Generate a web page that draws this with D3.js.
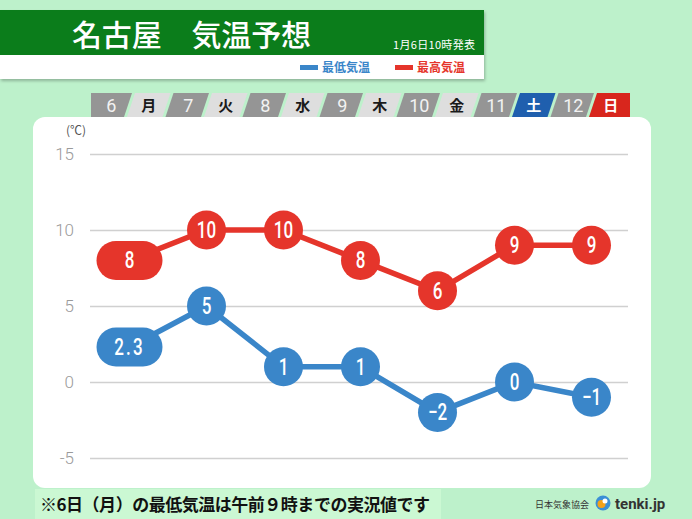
<!DOCTYPE html>
<html><head><meta charset="utf-8">
<script src="https://cdn.jsdelivr.net/npm/d3@7"></script>
<style>
html,body{margin:0;padding:0;background:#bdf1cb;}
svg{display:block;}
</style></head>
<body>
<svg id="c" width="692" height="519"></svg>
<script>
const dates = ["6","7","8","9","10","11","12"];
const weekdays = ["月","火","水","木","金","土","日"];
const lowTemps = [2.3,5,1,1,-2,0,-1];
const lowLabels = ["2.3","5","1","1","−2","0","−1"];
const highTemps = [8,10,10,8,6,9,9];
const highLabels = ["8","10","10","8","6","9","9"];
const yTicks = [-5,0,5,10,15];

(function(){
const svg = d3.select("#c");
const W = 692, H = 519;
const RED = "#e5352b", BLUE = "#3a86c9";
const numFont = "Roboto,sans-serif";
const jpFont = "'Noto Sans CJK JP',sans-serif";

svg.append("rect").attr("width",W).attr("height",H).attr("fill","#bdf1cb");

const defs = svg.append("defs");
const f = defs.append("filter").attr("id","sh").attr("x","-5%").attr("y","-20%").attr("width","110%").attr("height","150%");
f.append("feDropShadow").attr("dx",1).attr("dy",2).attr("stdDeviation",1.5).attr("flood-color","#000").attr("flood-opacity",0.25);

// Banner
svg.append("rect").attr("x",0).attr("y",10).attr("width",484).attr("height",69).attr("fill","#fff").attr("filter","url(#sh)");
svg.append("rect").attr("x",0).attr("y",10).attr("width",484).attr("height",45).attr("fill","#0b7d1b");
svg.append("text").attr("x",72).attr("y",46).attr("fill","#fff").attr("font-family",jpFont).attr("font-size",30).attr("font-weight",500)
  .attr("textLength",239).text("名古屋\u3000気温予想");
svg.append("text").attr("x",475).attr("y",49).attr("text-anchor","end").attr("fill","#fff").attr("font-family",jpFont).attr("font-size",11)
  .attr("textLength",82).text("1月6日10時発表");
// legend
const legend = [{c:BLUE,t:"最低気温",x:300},{c:RED,t:"最高気温",x:395}];
legend.forEach(l=>{
  svg.append("rect").attr("x",l.x).attr("y",65).attr("width",18).attr("height",5).attr("fill",l.c);
  svg.append("text").attr("x",l.x+22).attr("y",72).attr("fill",l.c).attr("font-family",jpFont).attr("font-weight",700).attr("font-size",12).text(l.t);
});

// Panel
svg.append("rect").attr("x",33).attr("y",117).attr("width",618).attr("height",371).attr("rx",12).attr("fill","#fff");

// Scales
const x = d3.scaleBand().domain(dates).range([91,630]).padding(0);
const cx = d => x(d) + x.bandwidth()/2;
const y = d3.scaleLinear().domain([-5,15]).range([458,154]);

// Day header
const bw = x.bandwidth(), half = bw/2, yTop = 93, yBot = 117, sk = 4, gap = 1.5;
dates.forEach((d,i)=>{
  const x0 = x(d), xm = x0+half, x1 = x0+bw;
  const l0 = i===0 ? x0 : x0+gap;
  const numPts = i===0 ? [[x0,yTop],[xm+sk-gap,yTop],[xm-sk-gap,yBot],[x0,yBot]]
                       : [[l0+sk,yTop],[xm+sk-gap,yTop],[xm-sk-gap,yBot],[l0-sk,yBot]];
  svg.append("polygon").attr("points",numPts.map(p=>p.join(",")).join(" ")).attr("fill","#959595");
  const wdFill = weekdays[i]==="土" ? "#1f5fae" : weekdays[i]==="日" ? "#d8261d" : "#dedede";
  const wdPts = i===dates.length-1 ? [[xm+sk+gap,yTop],[x1,yTop],[x1,yBot],[xm-sk+gap,yBot]]
                       : [[xm+sk+gap,yTop],[x1+sk-gap,yTop],[x1-sk-gap,yBot],[xm-sk+gap,yBot]];
  svg.append("polygon").attr("points",wdPts.map(p=>p.join(",")).join(" ")).attr("fill",wdFill);
  svg.append("text").attr("x",x0+half/2+1).attr("y",112).attr("text-anchor","middle").attr("fill","#f2f2f2")
    .attr("font-family","Roboto,sans-serif").attr("font-size",18).text(d);
  svg.append("text").attr("x",xm+half/2).attr("y",111).attr("text-anchor","middle")
    .attr("fill",(weekdays[i]==="土"||weekdays[i]==="日")?"#fff":"#1a1a1a")
    .attr("font-family",jpFont).attr("font-size",15).attr("font-weight",700).text(weekdays[i]);
});

// Y axis + grid
const yAxis = d3.axisLeft(y).tickValues(yTicks).tickSize(-(628-90)).tickPadding(16).tickFormat(d=>d);
const ga = svg.append("g").attr("transform","translate(90,0)").call(yAxis);
ga.select(".domain").remove();
ga.selectAll(".tick line").attr("stroke","#d0d0d0").attr("stroke-width",1.5);
ga.selectAll(".tick text").attr("fill","#9a9a9a").attr("font-family","Roboto,sans-serif").attr("font-weight",300).attr("font-size",17).attr("x",-16);
svg.append("text").attr("x",76).attr("y",135).attr("text-anchor","middle").attr("fill","#555")
  .attr("font-family",jpFont).attr("font-size",12).text("(℃)");

// Lines
const line = d3.line().x((v,i)=>cx(dates[i])).y(v=>y(v));
function series(vals, labels, color){
  svg.append("path").datum(vals).attr("d",line).attr("fill","none").attr("stroke",color).attr("stroke-width",5.5);
  const g = svg.append("g");
  vals.forEach((v,i)=>{
    const px = cx(dates[i]), py = y(v);
    if(i===0){
      g.append("rect").attr("x",px-33).attr("y",py-19.5).attr("width",66).attr("height",39).attr("rx",19.5).attr("fill",color);
    } else {
      g.append("circle").attr("cx",px).attr("cy",py).attr("r",19.5).attr("fill",color);
    }
    g.append("text").attr("transform",`translate(${px},${py+8}) scale(0.74,1)`).attr("text-anchor","middle").attr("fill","#fff")
      .attr("font-family",numFont).attr("font-weight",500).attr("font-size",23)
      .attr("letter-spacing", labels[i].includes(".")?3:0).text(labels[i]);
  });
}
series(highTemps, highLabels, RED);
series(lowTemps, lowLabels, BLUE);

// Footer
svg.append("rect").attr("x",35).attr("y",489).attr("width",406).attr("height",30).attr("fill","#cbf8d3");
svg.append("text").attr("x",40).attr("y",511).attr("fill","#111").attr("font-family",jpFont).attr("font-weight",700).attr("font-size",17)
  .attr("textLength",390).text("※6日（月）の最低気温は午前９時までの実況値です");
svg.append("text").attr("x",535).attr("y",508).attr("fill","#333").attr("font-family",jpFont).attr("font-size",9).text("日本気象協会");
const logo = svg.append("g").attr("transform","translate(603,503)");
logo.append("circle").attr("r",7.5).attr("fill","#3b8fd6");
logo.append("circle").attr("r",4).attr("fill","#f3a21b").attr("cx",-1.5).attr("cy",1);
logo.append("circle").attr("r",2.5).attr("fill","#fff").attr("cx",2).attr("cy",-2);
svg.append("text").attr("x",615).attr("y",509).attr("fill","#333").attr("font-family","Roboto,sans-serif").attr("font-weight",700).attr("font-size",15).text("tenki.jp");
})();
</script>
</body></html>
